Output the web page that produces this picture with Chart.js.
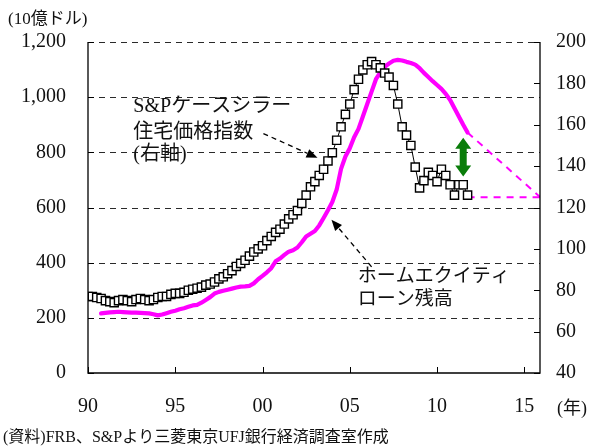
<!DOCTYPE html>
<html>
<head>
<meta charset="utf-8">
<script src="https://cdn.jsdelivr.net/npm/chart.js@4.4.1/dist/chart.umd.min.js"></script>
<style>
  html, body { margin: 0; padding: 0; background: #fff; }
  #wrap { width: 593px; height: 448px; position: relative; }
</style>
</head>
<body>
<div id="wrap"><canvas id="c" width="593" height="448"></canvas></div>
<script>
// Quarterly series
const quarterStep = 0.25;

// Home equity loans outstanding (10億ドル, left axis), from 1990 Q4
const loanStartYear = 1990.75;
const homeEquityLoans = [
  216,
  218, 220, 221, 222,
  221, 220, 219, 219,
  218, 217, 216, 213,
  209, 212, 217, 222,
  226, 231, 235, 240,
  245, 247, 255, 265,
  275, 288, 294, 298,
  302, 306, 310, 313,
  314, 316, 325, 340,
  352, 365, 380, 405,
  415, 428, 440, 445,
  455, 474, 495, 505,
  515, 535, 562, 590,
  620, 665, 740, 785,
  815, 855, 885, 930,
  975, 1020, 1065, 1090,
  1110, 1122, 1132, 1135,
  1133, 1128, 1124, 1118,
  1105, 1088, 1073, 1058,
  1044, 1030, 1012, 990,
  960, 930, 900, 872
];

// S&P Case-Shiller home price index (right axis), from 1990 Q1
const indexStartYear = 1990;
const caseShillerIndex = [
  77, 77, 76.5, 76,
  75, 74.5, 74, 75,
  75.5, 75, 74.5, 75.5,
  76, 75.5, 75, 75.5,
  76.5, 77, 77, 78,
  78.5, 78.5, 79, 80,
  80.5, 81, 81.5, 82.5,
  83, 84, 85.5, 86.5,
  88, 89.5, 91.5, 93,
  94.5, 96.5, 98.5, 100,
  101.5, 104, 106, 108,
  109.5, 112, 114.5, 116.5,
  118.5, 122, 126, 130,
  132.5, 135.5, 138.5, 142.5,
  146.5, 152.5, 159, 165,
  170, 177, 182, 186.5,
  189, 190.5, 189, 187.5,
  185, 183, 179, 170,
  159, 155, 150, 139.5,
  129.5, 133, 137, 135.5,
  132.5, 138.5, 135.5, 131,
  126, 131, 131, 126
];

// Outlook: loans converging down to the price level
const projectionYears = [2011.75, 2015.9];
const loanProjection = [872, 638];
const indexFlatLevel = [125, 125];

// Axis ticks
const xTickYears = [1990, 1995, 2000, 2005, 2010, 2015];
const xTickLabels = ['90', '95', '00', '05', '10', '15'];
const xRange = [1990, 2015.9];
const leftRange = [0, 1200];
const rightRange = [40, 200];

// Gap marker (left-axis units)
const gapArrow = { year: 2011.5, top: 853, bottom: 712 };

const FONT = "'Liberation Serif', 'Noto Sans CJK JP', serif";

function toPoints(start, values) {
  return values.map((v, i) => ({ x: start + i * quarterStep, y: v }));
}

function dashedArrow(ctx, x1, y1, x2, y2) {
  const ang = Math.atan2(y2 - y1, x2 - x1);
  const headLen = 11, headW = 4.5;
  const bx = x2 - Math.cos(ang) * headLen, by = y2 - Math.sin(ang) * headLen;
  ctx.save();
  ctx.strokeStyle = '#000';
  ctx.fillStyle = '#000';
  ctx.lineWidth = 1.3;
  ctx.setLineDash([5, 4]);
  ctx.beginPath();
  ctx.moveTo(x1, y1);
  ctx.lineTo(bx, by);
  ctx.stroke();
  ctx.setLineDash([]);
  ctx.beginPath();
  ctx.moveTo(x2, y2);
  ctx.lineTo(bx + Math.sin(ang) * headW, by - Math.cos(ang) * headW);
  ctx.lineTo(bx - Math.sin(ang) * headW, by + Math.cos(ang) * headW);
  ctx.closePath();
  ctx.fill();
  ctx.restore();
}

const decor = {
  id: 'decor',
  beforeDatasetsDraw(chart) {
    const { ctx, chartArea: a, scales: { y } } = chart;
    ctx.save();
    ctx.strokeStyle = '#2a2a2a';
    ctx.lineWidth = 1;
    ctx.setLineDash([6, 5]);
    y.ticks.forEach(t => {
      if (t.value <= leftRange[0]) return;
      const py = Math.round(y.getPixelForValue(t.value)) + 0.5;
      ctx.beginPath();
      ctx.moveTo(a.left, py);
      ctx.lineTo(a.right, py);
      ctx.stroke();
    });
    ctx.restore();
  },
  afterDatasetsDraw(chart) {
    const { ctx, chartArea: a, scales: { x, y, y1 } } = chart;
    ctx.save();
    // axis frame (left, bottom, right)
    ctx.strokeStyle = '#000';
    ctx.lineWidth = 1.3;
    ctx.beginPath();
    ctx.moveTo(a.left, a.top);
    ctx.lineTo(a.left, a.bottom);
    ctx.lineTo(a.right, a.bottom);
    ctx.lineTo(a.right, a.top);
    ctx.stroke();
    // inward tick marks
    ctx.lineWidth = 1;
    x.ticks.forEach(t => {
      const px = Math.round(x.getPixelForValue(t.value)) + 0.5;
      ctx.beginPath(); ctx.moveTo(px, a.bottom); ctx.lineTo(px, a.bottom - 6); ctx.stroke();
    });
    y.ticks.forEach(t => {
      const py = Math.round(y.getPixelForValue(t.value)) + 0.5;
      ctx.beginPath(); ctx.moveTo(a.left, py); ctx.lineTo(a.left + 6, py); ctx.stroke();
    });
    y1.ticks.forEach(t => {
      const py = Math.round(y1.getPixelForValue(t.value)) + 0.5;
      ctx.beginPath(); ctx.moveTo(a.right, py); ctx.lineTo(a.right - 6, py); ctx.stroke();
    });
    ctx.restore();

    // green double arrow showing the gap
    const gx = x.getPixelForValue(gapArrow.year);
    const gt = y.getPixelForValue(gapArrow.top);
    const gb = y.getPixelForValue(gapArrow.bottom);
    const shaft = 3.5, head = 8, headH = 11;
    ctx.save();
    ctx.fillStyle = '#0a7d0a';
    ctx.beginPath();
    ctx.moveTo(gx, gt);
    ctx.lineTo(gx + head, gt + headH);
    ctx.lineTo(gx + shaft, gt + headH);
    ctx.lineTo(gx + shaft, gb - headH);
    ctx.lineTo(gx + head, gb - headH);
    ctx.lineTo(gx, gb);
    ctx.lineTo(gx - head, gb - headH);
    ctx.lineTo(gx - shaft, gb - headH);
    ctx.lineTo(gx - shaft, gt + headH);
    ctx.lineTo(gx - head, gt + headH);
    ctx.closePath();
    ctx.fill();
    ctx.restore();

    // series labels with pointer arrows
    ctx.save();
    ctx.fillStyle = '#111';
    ctx.textBaseline = 'middle';
    ctx.textAlign = 'left';
    ctx.font = '20px ' + FONT;
    const l1x = x.getPixelForValue(1992.6);
    ctx.fillText('S&Pケースシラー', l1x, y.getPixelForValue(965));
    ctx.fillText('住宅価格指数', l1x, y.getPixelForValue(872));
    ctx.fillText('(右軸)', l1x, y.getPixelForValue(790));
    ctx.font = '19px ' + FONT;
    const l2x = x.getPixelForValue(2005.45);
    ctx.fillText('ホームエクイティ', l2x, y.getPixelForValue(348));
    ctx.fillText('ローン残高', l2x, y.getPixelForValue(265));
    ctx.restore();

    dashedArrow(ctx, x.getPixelForValue(2000.05), y.getPixelForValue(868),
                x.getPixelForValue(2003.15), y.getPixelForValue(780));
    dashedArrow(ctx, x.getPixelForValue(2006.25), y.getPixelForValue(385),
                x.getPixelForValue(2003.95), y.getPixelForValue(556));
  },
  afterDraw(chart) {
    const { ctx } = chart;
    ctx.save();
    ctx.fillStyle = '#111';
    ctx.textBaseline = 'middle';
    ctx.textAlign = 'left';
    ctx.font = '17px ' + FONT;
    ctx.fillText('(10億ドル)', 8, 20);
    ctx.font = '18px ' + FONT;
    ctx.fillText('(年)', 557, 409);
    ctx.font = '16px ' + FONT;
    ctx.fillText('(資料)FRB、S&Pより三菱東京UFJ銀行経済調査室作成', 3, 438);
    ctx.restore();
  }
};

const tickFont = { family: FONT, size: 20 };

new Chart(document.getElementById('c'), {
  type: 'line',
  data: {
    datasets: [
      {
        label: 'S&Pケースシラー住宅価格指数',
        yAxisID: 'y1',
        data: toPoints(indexStartYear, caseShillerIndex),
        borderColor: '#000',
        borderWidth: 1,
        pointStyle: 'rect',
        pointRadius: 5.8,
        pointBackgroundColor: '#fff',
        pointBorderColor: '#000',
        pointBorderWidth: 1.4,
        tension: 0
      },
      {
        label: '価格水準',
        yAxisID: 'y1',
        data: projectionYears.map((yr, i) => ({ x: yr, y: indexFlatLevel[i] })),
        borderColor: '#ff00ff',
        borderWidth: 2,
        borderDash: [7, 6],
        pointRadius: 0
      },
      {
        label: 'ローン残高見通し',
        yAxisID: 'y',
        data: projectionYears.map((yr, i) => ({ x: yr, y: loanProjection[i] })),
        borderColor: '#ff00ff',
        borderWidth: 2,
        borderDash: [7, 6],
        pointRadius: 0
      },
      {
        label: 'ホームエクイティローン残高',
        yAxisID: 'y',
        data: toPoints(loanStartYear, homeEquityLoans),
        borderColor: '#ff00ff',
        borderWidth: 4.2,
        borderJoinStyle: 'round',
        borderCapStyle: 'round',
        pointRadius: 0,
        tension: 0
      }
    ]
  },
  options: {
    responsive: false,
    animation: false,
    devicePixelRatio: 1,
    layout: { padding: { top: 42, left: 0, right: 0, bottom: 0 } },
    plugins: { legend: { display: false }, tooltip: { enabled: false } },
    scales: {
      x: {
        type: 'linear',
        position: 'bottom',
        min: xRange[0],
        max: xRange[1],
        afterBuildTicks: s => { s.ticks = xTickYears.map(v => ({ value: v })); },
        afterFit: s => { s.height = 75; },
        grid: { display: false, drawTicks: false },
        border: { display: false },
        ticks: {
          padding: 22,
          autoSkip: false,
          maxRotation: 0,
          color: '#111',
          font: tickFont,
          callback: (v, i) => xTickLabels[i]
        }
      },
      y: {
        position: 'left',
        min: leftRange[0],
        max: leftRange[1],
        afterFit: s => { s.width = 88; },
        grid: { display: false, drawTicks: false },
        border: { display: false },
        ticks: {
          stepSize: 200,
          padding: 22,
          color: '#111',
          font: tickFont,
          callback: v => v.toLocaleString('en-US')
        }
      },
      y1: {
        position: 'right',
        min: rightRange[0],
        max: rightRange[1],
        afterFit: s => { s.width = 53; },
        grid: { display: false, drawTicks: false },
        border: { display: false },
        ticks: {
          stepSize: 20,
          padding: 16,
          color: '#111',
          font: tickFont
        }
      }
    }
  },
  plugins: [decor]
});
</script>
</body>
</html>
